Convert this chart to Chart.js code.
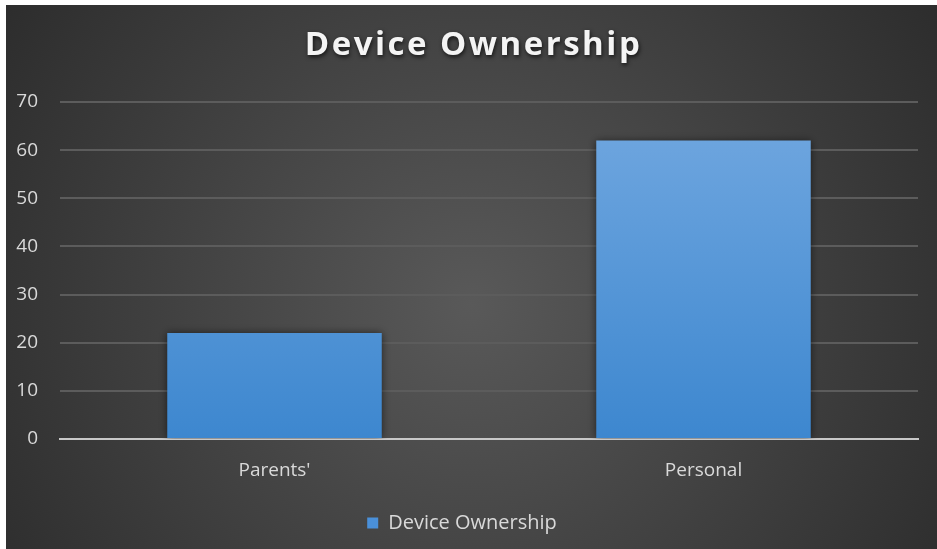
<!DOCTYPE html>
<html>
<head>
<meta charset="utf-8">
<title>Device Ownership</title>
<script src="https://cdn.jsdelivr.net/npm/chart.js@4"></script>
<style>
  html, body { margin: 0; padding: 0; background: #ffffff; }
  #wrap { position: absolute; left: 6px; top: 5px; width: 931px; height: 544px; }
</style>
</head>
<body>
<div id="wrap"><canvas id="ownershipChart"></canvas></div>
<script>
// Chart data
const categories = ["Parents'", 'Personal'];
const ownership = [22, 62];
const seriesName = 'Device Ownership';
const chartTitle = 'Device Ownership';
const yTicks = [0, 10, 20, 30, 40, 50, 60, 70];

const labelFont = '"Open Sans", "Noto Sans", sans-serif';

// Dark radial backdrop behind the whole chart
const backdrop = {
    id: 'backdrop',
    beforeDraw(chart) {
        const { ctx, width, height } = chart;
        const g = ctx.createRadialGradient(width * 0.5, height * 0.55, 0, width * 0.5, height * 0.55, width * 0.62);
        g.addColorStop(0, '#595959');
        g.addColorStop(1, '#2b2b2b');
        ctx.save();
        ctx.fillStyle = g;
        ctx.fillRect(0, 0, width, height);
        ctx.restore();
    }
};

// Tracked-out title with a drop shadow
const spacedTitle = {
    id: 'spacedTitle',
    afterDraw(chart) {
        const ctx = chart.ctx;
        ctx.save();
        ctx.font = 'bold 33px ' + labelFont;
        ctx.letterSpacing = '2.5px';
        ctx.textAlign = 'center';
        ctx.textBaseline = 'alphabetic';
        ctx.shadowColor = 'rgba(0,0,0,0.7)';
        ctx.shadowBlur = 4;
        ctx.shadowOffsetX = 1;
        ctx.shadowOffsetY = 2;
        ctx.fillStyle = '#f4f4f4';
        ctx.fillText(chartTitle, chart.width / 2 + 2, 50);
        ctx.restore();
    }
};

// Soft shadow around the bars
const barShadow = {
    id: 'barShadow',
    beforeDatasetsDraw(chart) {
        const ctx = chart.ctx;
        ctx.save();
        ctx.shadowColor = 'rgba(0,0,0,0.55)';
        ctx.shadowBlur = 8;
        ctx.shadowOffsetX = 0;
        ctx.shadowOffsetY = 0;
    },
    afterDatasetsDraw(chart) {
        chart.ctx.restore();
    }
};

function barGradient(context) {
    const chart = context.chart;
    const area = chart.chartArea;
    if (!area) return '#5b9bd5';
    const g = chart.ctx.createLinearGradient(0, area.top, 0, area.bottom);
    g.addColorStop(0, '#72a8e0');
    g.addColorStop(1, '#3d87cf');
    return g;
}

new Chart(document.getElementById('ownershipChart'), {
    type: 'bar',
    data: {
        labels: categories,
        datasets: [{
            label: seriesName,
            data: ownership,
            backgroundColor: barGradient,
            borderWidth: 0,
            categoryPercentage: 0.5,
            barPercentage: 1.0
        }]
    },
    plugins: [backdrop, barShadow, spacedTitle],
    options: {
        responsive: true,
        maintainAspectRatio: false,
        animation: false,
        layout: { padding: { left: 0, right: 19, top: 97, bottom: 6 } },
        plugins: {
            title: { display: false },
            legend: {
                position: 'bottom',
                labels: {
                    color: '#d9d9d9',
                    font: { family: labelFont, size: 20 },
                    boxWidth: 11,
                    boxHeight: 11,
                    padding: 8,
                    generateLabels(chart) {
                        return [{
                            text: seriesName,
                            fillStyle: '#4a90d9',
                            strokeStyle: '#4a90d9',
                            lineWidth: 0,
                            fontColor: '#d9d9d9',
                            datasetIndex: 0
                        }];
                    }
                }
            },
            tooltip: { enabled: false }
        },
        scales: {
            x: {
                grid: { display: false, drawTicks: false },
                border: { display: true, color: '#c8c8c8', width: 2 },
                ticks: {
                    color: '#d9d9d9',
                    font: { family: labelFont, size: 19 },
                    padding: 20
                },
                afterFit(scale) { scale.height = 66; }
            },
            y: {
                min: 0,
                max: 70,
                afterBuildTicks(scale) { scale.ticks = yTicks.map(v => ({ value: v })); },
                grid: { color: '#5c5c5c', lineWidth: 2, drawTicks: false },
                border: { display: false },
                ticks: {
                    color: '#d9d9d9',
                    font: { family: labelFont, size: 19 },
                    padding: 22
                },
                afterFit(scale) { scale.width = 54; }
            }
        }
    }
});
</script>
</body>
</html>
